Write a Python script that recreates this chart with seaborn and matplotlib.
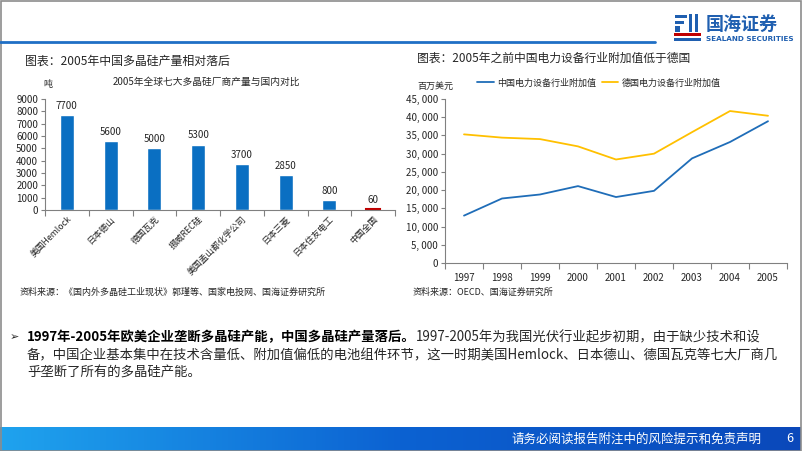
import matplotlib
matplotlib.use("Agg")
import matplotlib.pyplot as plt
import numpy as np
import pandas as pd
import seaborn as sns
from matplotlib.patches import Rectangle
from matplotlib.colors import LinearSegmentedColormap

sns.set_style("white")
plt.rcParams["font.family"] = ["Noto Sans CJK SC", "DejaVu Sans"]

# left chart: 2005 polysilicon output (tonnes)
companies = ["美国Hemlock", "日本德山", "德国瓦克", "挪威REC硅", "美国孟山都化学公司",
             "日本三菱", "日本住友电工", "中国全国"]
output_t = [7700, 5600, 5000, 5300, 3700, 2850, 800, 60]

# right chart: value added of power equipment industry (million USD)
years = ["1997", "1998", "1999", "2000", "2001", "2002", "2003", "2004", "2005"]
china_va = [13000, 17700, 18800, 21100, 18100, 19800, 28700, 33200, 38900]
germany_va = [35300, 34400, 34000, 32000, 28400, 30000, 35900, 41700, 40400]

W, H = 802, 451
BLUE = "#0A6FC2"
RED = "#C00000"
YELLOW = "#FFC000"
LINE_BLUE = "#1F6DB8"
GRAY = "#808080"
TXT = "#262626"


def fx(x):
    return x / W


def fy(y):
    return 1 - y / H


fig = plt.figure(figsize=(W / 100, H / 100), dpi=100)

# ---- slide decorations ----
fig.patches.append(Rectangle((fx(0.5), fy(450.5)), fx(800), 450 / H, transform=fig.transFigure,
                             fill=False, edgecolor="#8c8c8c", lw=1.2, zorder=0))
fig.add_artist(plt.Line2D([0, fx(655)], [fy(42), fy(42)], color="#1F6FC5", lw=2.0))

# logo (rough)
logo_bits = [(675, 15, 12, 3, "#1F5FB0"), (675, 21, 9, 3, "#1F5FB0"), (689, 14, 3, 18, "#1F5FB0"),
             (695, 14, 3, 18, "#1F5FB0"), (675, 26, 5, 6, "#1F5FB0"), (674, 33, 27, 3, RED),
             (674, 38, 27, 3, "#1F5FB0")]
for x0, y0, w0, h0, c in logo_bits:
    fig.patches.append(Rectangle((fx(x0), fy(y0 + h0)), w0 / W, h0 / H, transform=fig.transFigure,
                                 color=c, lw=0))
fig.text(fx(706), fy(24), "国海证券", fontsize=13, fontweight="bold", color="#1F5FB0", va="center")
fig.text(fx(706), fy(39), "SEALAND SECURITIES", fontsize=5.2, fontweight="bold", color="#1F5FB0",
         va="center", family="DejaVu Sans")

# section titles
fig.text(fx(25), fy(61), "图表：2005年中国多晶硅产量相对落后", fontsize=8.6, color=TXT, va="center")
fig.text(fx(417), fy(58), "图表：2005年之前中国电力设备行业附加值低于德国", fontsize=8.5, color=TXT, va="center")

# ---- left bar chart ----
ax1 = fig.add_axes([fx(45), fy(210), 350 / W, 111 / H])
sns.barplot(x=companies, y=output_t, hue=companies, palette=[BLUE] * 7 + [RED], legend=False,
            width=0.32, saturation=1, ax=ax1)
ax1.patches[-1].set_edgecolor(RED)
ax1.patches[-1].set_linewidth(1.5)
ax1.set_xlim(-0.5, 7.5)
ax1.set_ylim(0, 9000)
ax1.set_yticks(range(0, 9001, 1000))
ax1.set_xticks(np.arange(-0.5, 8, 1), minor=True)
ax1.set_xticks(range(len(companies)))
ax1.set_xticklabels(companies, rotation=45, ha="right", rotation_mode="anchor", fontsize=6.3, color=TXT)
ax1.tick_params(axis="x", which="major", length=0, pad=3)
ax1.tick_params(axis="x", which="minor", bottom=True, length=4, color=GRAY, width=0.8)
ax1.tick_params(axis="y", left=True, length=3, color=GRAY, width=0.8, labelsize=7, labelcolor=TXT, pad=2)
ax1.set_xlabel("")
ax1.set_ylabel("")
for s in ["top", "right"]:
    ax1.spines[s].set_visible(False)
for s in ["left", "bottom"]:
    ax1.spines[s].set_color(GRAY)
    ax1.spines[s].set_linewidth(0.8)
for i, v in enumerate(output_t):
    ax1.annotate(str(v), (i, v), xytext=(0, 3), textcoords="offset points", ha="center", va="bottom",
                 fontsize=7, color=TXT)
fig.text(fx(206), fy(82), "2005年全球七大多晶硅厂商产量与国内对比", fontsize=7, color=TXT,
         ha="center", va="center")
fig.text(fx(48), fy(85), "吨", fontsize=6.5, color=TXT, ha="center", va="center")

# ---- right line chart ----
df = pd.DataFrame({
    "year": years * 2,
    "value": china_va + germany_va,
    "series": ["中国电力设备行业附加值"] * len(years) + ["德国电力设备行业附加值"] * len(years),
})
ax2 = fig.add_axes([fx(445), fy(263), 342 / W, 164 / H])
sns.lineplot(data=df, x="year", y="value", hue="series", palette=[LINE_BLUE, YELLOW], lw=1.3,
             sort=False, ax=ax2)
ax2.set_xlim(-0.5, 8.5)
ax2.set_ylim(0, 45000)
ax2.set_yticks(range(0, 45001, 5000))
ax2.set_yticklabels([f"{v:,}".replace(",", ", ") for v in range(0, 45001, 5000)])
ax2.set_xticks(np.arange(-0.5, 9, 1), minor=True)
ax2.tick_params(axis="x", which="major", length=0, labelsize=7, labelcolor=TXT, pad=7)
ax2.tick_params(axis="x", which="minor", bottom=True, length=4, color=GRAY, width=0.8)
ax2.tick_params(axis="y", left=True, length=3, color=GRAY, width=0.8, labelsize=7, labelcolor=TXT, pad=2)
ax2.set_xlabel("")
ax2.set_ylabel("")
for s in ["top", "right"]:
    ax2.spines[s].set_visible(False)
for s in ["left", "bottom"]:
    ax2.spines[s].set_color(GRAY)
    ax2.spines[s].set_linewidth(0.8)
ax2.legend(loc="center", bbox_to_anchor=(fx(599), fy(83)), bbox_transform=fig.transFigure, ncol=2,
           frameon=False, fontsize=6.5, handlelength=1.8, columnspacing=0.6, handletextpad=0.4,
           labelcolor=TXT)
fig.text(fx(417), fy(86), "百万美元", fontsize=6.5, color=TXT, va="center")

# sources
fig.text(fx(20), fy(292), "资料来源：《国内外多晶硅工业现状》郭瑾等、国家电投网、国海证券研究所",
         fontsize=6.5, color=TXT, va="center")
fig.text(fx(413), fy(292), "资料来源：OECD、国海证券研究所", fontsize=6.5, color=TXT, va="center")

# ---- bullet paragraph ----
fs = 9.6
fig.text(fx(10), fy(337), "➢", fontsize=8, color=TXT, va="center", family="DejaVu Sans")
bold = fig.text(fx(27), fy(337), "1997年-2005年欧美企业垄断多晶硅产能，中国多晶硅产量落后。", fontsize=fs,
                fontweight="bold", color="#000000", va="center")
fig.canvas.draw()
bb = bold.get_window_extent(fig.canvas.get_renderer())
fig.text(bb.x1 / W, fy(337), "1997-2005年为我国光伏行业起步初期，由于缺少技术和设", fontsize=fs,
         color=TXT, va="center")
fig.text(fx(27), fy(355), "备，中国企业基本集中在技术含量低、附加值偏低的电池组件环节，这一时期美国Hemlock、日本德山、德国瓦克等七大厂商几",
         fontsize=fs, color=TXT, va="center")
fig.text(fx(27), fy(373), "乎垄断了所有的多晶硅产能。", fontsize=fs, color=TXT, va="center")

# ---- footer ----
axf = fig.add_axes([0, 0, fx(801), 24 / H])
cmap = LinearSegmentedColormap.from_list("foot", ["#1FA3EE", "#0C62D2", "#0A48BA"])
axf.imshow(np.linspace(0, 1, 256).reshape(1, -1), aspect="auto", cmap=cmap, extent=[0, 1, 0, 1])
axf.axis("off")
fig.text(fx(762), fy(439), "请务必阅读报告附注中的风险提示和免责声明", fontsize=9, color="white",
         ha="right", va="center")
fig.text(fx(790), fy(439), "6", fontsize=9, color="white", ha="center", va="center")

fig.savefig("out.png", dpi=100)
